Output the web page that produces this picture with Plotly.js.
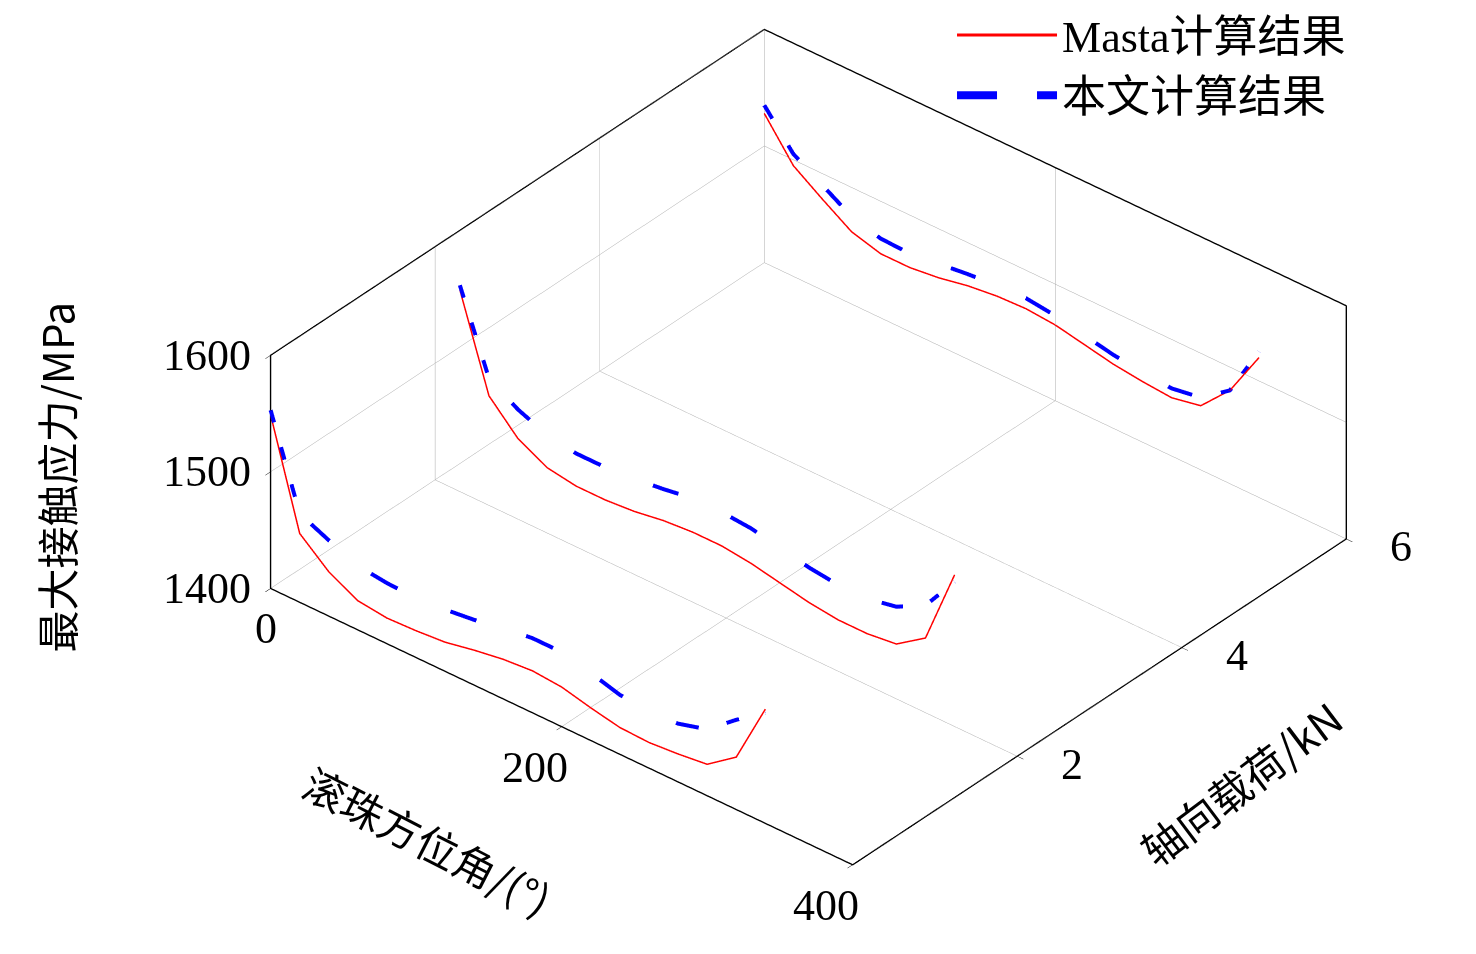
<!DOCTYPE html>
<html>
<head>
<meta charset="utf-8">
<script src="https://cdn.plot.ly/plotly-3.0.1.min.js"></script>
<style>body{margin:0;background:#fff}</style>
</head>
<body>
<div id="chart" style="width:1476px;height:954px"></div>
<script>
// ball azimuth angle (deg)
var angles = [0,20,40,60,80,100,120,140,160,180,200,220,240,260,280,300,320,340];
// axial load of each curve (kN)
var loads = [0, 2.3, 6];

// Masta results, one array per load
var masta1 = [1549,1459,1438,1425,1422,1423,1425,1430,1434,1436,1434,1428,1423,1422,1424,1427,1445,1498];
var masta2 = [1549,1470,1445,1432,1428,1428,1430,1434,1436,1436,1433,1428,1423,1420,1420,1423,1440,1506];
var masta3 = [1528,1495,1478,1462,1455,1455,1458,1463,1466,1467,1465,1460,1455,1452,1450,1455,1480,1520];
// results of this paper
var paper1 = [1553,1476,1465,1455,1452,1451,1453,1456,1461,1464,1464,1458,1451,1449,1450,1457,1477,1495];
var paper2 = [1553,1485,1470,1460,1456,1456,1458,1461,1465,1465,1463,1458,1453,1450,1450,1455,1468,1500];
var paper3 = [1535,1505,1490,1475,1468,1467,1470,1473,1475,1476,1473,1468,1463,1460,1458,1462,1480,1525];

// tick labels
var xTicks = [0, 200, 400];
var yTicks = [2, 4, 6];
var zTicks = [1400, 1500, 1600];

var masta = [masta1, masta2, masta3];
var paper = [paper1, paper2, paper3];

var traces = [];
for (var i = 0; i < loads.length; i++)
{
    var ys = angles.map(function() { return loads[i]; });
    traces.push({
        type: 'scatter3d', mode: 'lines',
        x: angles, y: ys, z: masta[i],
        line: {color: '#ff0000', width: 3},
        name: 'Masta计算结果', showlegend: i === 0
    });
    traces.push({
        type: 'scatter3d', mode: 'lines',
        x: angles, y: ys, z: paper[i],
        line: {color: '#0000ff', width: 8, dash: 'longdash'},
        name: '本文计算结果', showlegend: i === 0
    });
}

var tickFont = {family: 'Liberation Serif', size: 44, color: '#000'};
var titleFont = {family: 'Noto Sans CJK SC', size: 42, color: '#000'};

// tick labels as scene annotations so they stay upright
var sceneAnn = [];
xTicks.forEach(function(v)
{
    sceneAnn.push({x: v, y: 0, z: 1400, text: String(v), showarrow: false,
        xanchor: 'right', yanchor: 'top', xshift: 8, yshift: -14, font: tickFont});
});
yTicks.forEach(function(v)
{
    sceneAnn.push({x: 400, y: v, z: 1400, text: String(v), showarrow: false,
        xanchor: 'left', yanchor: 'middle', xshift: 42, yshift: -8, font: tickFont});
});
zTicks.forEach(function(v)
{
    sceneAnn.push({x: 0, y: 0, z: v, text: String(v), showarrow: false,
        xanchor: 'right', yanchor: 'middle', xshift: -18, font: tickFont});
});

var axisCommon = {
    showbackground: false,
    showgrid: true, gridcolor: '#aaaaaa',
    showline: true, linecolor: '#000', linewidth: 3, mirror: true,
    zeroline: false, showspikes: false,
    showticklabels: false, title: {text: ''},
    ticks: 'inside', tickcolor: '#000', ticklen: 8
};

var layout = {
    font: {family: 'Liberation Serif, Noto Sans CJK SC', color: '#000'},
    paper_bgcolor: '#fff',
    margin: {l: 0, r: 0, t: 0, b: 0},
    showlegend: true,
    legend: {
        x: 0.645, y: 1.0, xanchor: 'left', yanchor: 'top',
        font: {family: 'Liberation Serif, Noto Sans CJK SC', size: 44, color: '#000'},
        itemwidth: 100,
        bgcolor: 'rgba(0,0,0,0)'
    },
    annotations: [
        {xref: 'paper', yref: 'paper', x: 0.037, y: 0.50, xanchor: 'center', yanchor: 'middle',
            text: '最大接触应力/MPa', textangle: -90, showarrow: false, font: titleFont},
        {xref: 'paper', yref: 'paper', x: 0.290, y: 0.120, xanchor: 'center', yanchor: 'middle',
            text: '滚珠方位角/(°)', textangle: 27, showarrow: false, font: titleFont},
        {xref: 'paper', yref: 'paper', x: 0.840, y: 0.180, xanchor: 'center', yanchor: 'middle',
            text: '轴向载荷/kN', textangle: -37, showarrow: false, font: titleFont}
    ],
    scene: {
        domain: {x: [0.0, 1.0], y: [0.0, 1.0]},
        aspectmode: 'manual',
        aspectratio: {x: 1.6, y: 1.6, z: 0.59},
        camera: {
            projection: {type: 'orthographic'},
            eye: {x: 0.534, y: -0.858, z: 0.60},
            center: {x: -0.136, y: -0.068, z: -0.10}
        },
        annotations: sceneAnn,
        xaxis: Object.assign({}, axisCommon, {range: [0, 400], tickvals: xTicks}),
        yaxis: Object.assign({}, axisCommon, {range: [0, 6], tickvals: yTicks}),
        zaxis: Object.assign({}, axisCommon, {range: [1400, 1600], tickvals: zTicks})
    }
};

Plotly.newPlot('chart', traces, layout, {displayModeBar: false});
</script>
</body>
</html>
